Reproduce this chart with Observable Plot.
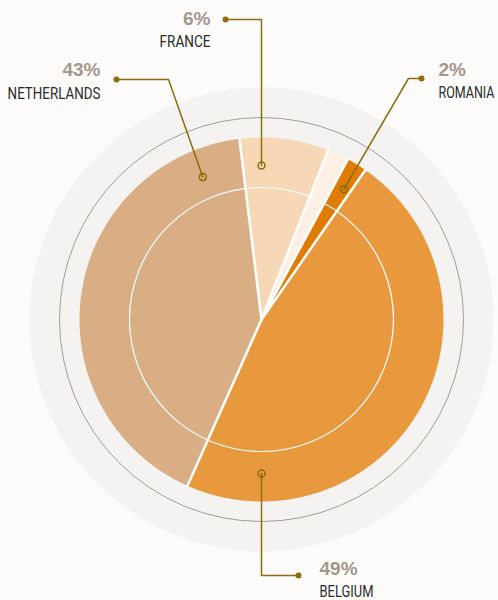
<!DOCTYPE html>
<html><head><meta charset="utf-8">
<script src="https://cdn.jsdelivr.net/npm/d3@7"></script>
<script src="https://cdn.jsdelivr.net/npm/@observablehq/plot@0.6"></script>
<style>
html,body{margin:0;padding:0;background:#fcfbfa;}
#chart svg{display:block;}
</style>
</head><body><div id="chart"></div>
<script>
// ---- data ----
const slices = ["Belgium", "Netherlands", "France", "Other", "Romania"];
const shares = [47.0, 41.4, 7.9, 1.9, 1.8];          // share of the circle
const sliceColors = ["#e8993d", "#d9ae85", "#f7d8b6", "#fcefe3", "#e07c04"];
const startDeg = 34.8;                                 // first slice start, clockwise from 12 o'clock

const labelNames = ["FRANCE", "NETHERLANDS", "ROMANIA", "BELGIUM"];
const labelPcts  = ["6%", "43%", "2%", "49%"];
const anchorDeg  = [0, 337.6, 32.3, 180];              // where each leader touches its slice

// ---- layout (pixels) ----
const W = 498, H = 600, CX = 261, CY = 319;
const R = 182, RING = 202, BG = 232, INNER = 132, ANCHOR_R = 154;
const GOLD = "#8c6c0c";
const layout = [
  {elbow: null,       dot: [225, 19],  textX: 210, pctY: 24,  nameY: 46,  align: "end",   nameW: 51},
  {elbow: [168, 79],  dot: [116, 79],  textX: 100, pctY: 75,  nameY: 98,  align: "end",   nameW: 93},
  {elbow: [408, 78],  dot: [421, 78],  textX: 438, pctY: 75.5, nameY: 97.5, align: "start", nameW: 56},
  {elbow: null,       dot: [298, 575], textX: 319, pctY: 574.5, nameY: 596.5, align: "start", nameW: 54}
];

const rad = d => d * Math.PI / 180;
const pt = (deg, r) => ({x: r * Math.sin(rad(deg)), y: r * Math.cos(rad(deg))});
const px = (p) => ({x: p[0] - CX, y: CY - p[1]});

// slices as polygons
const total = d3.sum(shares);
let a = startDeg;
const polys = [], seps = [];
shares.forEach((v, i) => {
  const span = v / total * 360, a0 = a, a1 = a + span;
  const k = slices[i], c = sliceColors[i];
  polys.push({x: 0, y: 0, k, c});
  for (let t = a0; t < a1; t += 0.5) polys.push({...pt(t, R), k, c});
  polys.push({...pt(a1, R), k, c});
  polys.push({x: 0, y: 0, k, c});
  seps.push({x: 0, y: 0, k: "s" + i});
  seps.push({...pt(a0, R), k: "s" + i});
  a = a1;
});

// leaders
const leaders = [], anchors = [], ends = [], texts = [];
const nameWidth = {};
labelNames.forEach((name, i) => {
  const L = layout[i];
  const an = pt(anchorDeg[i], ANCHOR_R);
  const end = px(L.dot);
  const elbow = L.elbow ? px(L.elbow) : {x: an.x, y: end.y};
  leaders.push({...an, k: name}, {...elbow, k: name}, {...end, k: name});
  anchors.push(an);
  ends.push(end);
  nameWidth[name] = L.nameW;
  texts.push({...px([L.textX, L.pctY]), t: labelPcts[i], kind: "pct", align: L.align});
  texts.push({...px([L.textX, L.nameY]), t: name, kind: "name", align: L.align});
});

const pctStyle = {fontFamily: "'Liberation Sans', Arial, sans-serif", fontSize: 19, fontWeight: "bold", fill: "#a5978b"};
const nameStyle = {fontFamily: "Roboto, 'Liberation Sans', sans-serif", fontSize: 16, fill: "#2b2b2b", className: "name-label"};
const textMark = (kind, align, style) => Plot.text(texts.filter(d => d.kind === kind && d.align === align),
  {x: "x", y: "y", text: "t", textAnchor: align, lineAnchor: "bottom", ...style});

const chart = Plot.plot({
  width: W, height: H, margin: 0,
  style: {background: "transparent", overflow: "visible"},
  x: {domain: [-CX, W - CX], range: [0, W], axis: null},
  y: {domain: [CY, CY - H], range: [0, H], axis: null},
  color: {type: "identity"},
  marks: [
    Plot.dot([{x: 0, y: 0}], {x: "x", y: "y", r: BG, fill: "#f5f3f1", stroke: "none"}),
    Plot.dot([{x: 0, y: 0}], {x: "x", y: "y", r: RING, fill: "none", stroke: "#a69c94", strokeWidth: 1}),
    Plot.line(polys, {x: "x", y: "y", z: "k", fill: "c", stroke: "none", curve: "linear"}),
    Plot.line(seps, {x: "x", y: "y", z: "k", stroke: "white", strokeWidth: 2.5}),
    Plot.dot([{x: 0, y: 0}], {x: "x", y: "y", r: INNER, fill: "none", stroke: "white", strokeWidth: 1.2}),
    Plot.line(leaders, {x: "x", y: "y", z: "k", stroke: GOLD, strokeWidth: 1.5}),
    Plot.dot(anchors, {x: "x", y: "y", r: 3.5, fill: "none", stroke: GOLD, strokeWidth: 1.5}),
    Plot.dot(ends, {x: "x", y: "y", r: 3, fill: GOLD, stroke: "none"}),
    textMark("pct", "end", pctStyle),
    textMark("pct", "start", pctStyle),
    textMark("name", "end", nameStyle),
    textMark("name", "start", nameStyle)
  ]
});
document.getElementById("chart").appendChild(chart);
// condensed look: squeeze label names horizontally to the widths measured in the reference
d3.select(chart).selectAll(".name-label text").each(function () {
  const w = nameWidth[this.textContent];
  const len = this.getComputedTextLength();
  if (w && len > 0) {
    const t = this.getAttribute("transform") || "";
    this.setAttribute("transform", t + " scale(" + (w / len) + ",1)");
  }
});
</script>
</body></html>
